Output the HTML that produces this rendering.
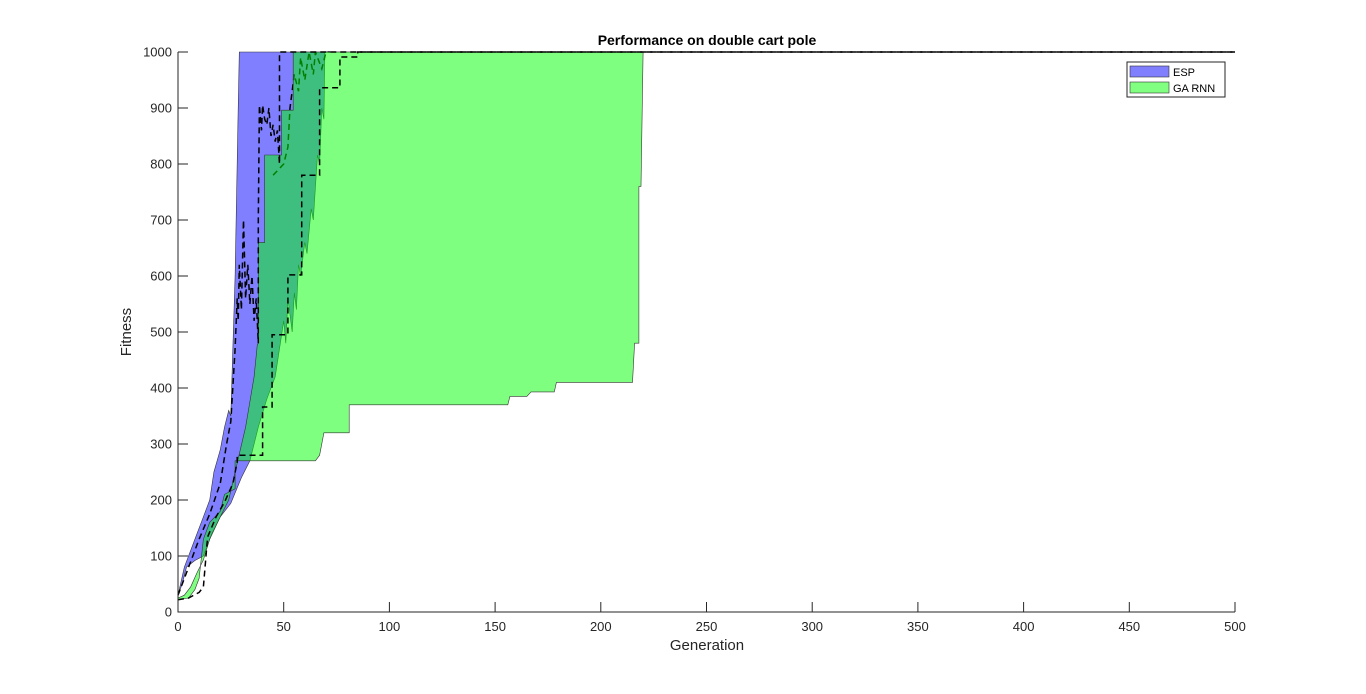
<!DOCTYPE html>
<html><head><meta charset="utf-8"><style>
html,body{margin:0;padding:0;background:#fff;}
svg text{font-family:"Liberation Sans",sans-serif;}
</style></head><body>
<svg id="chart" width="1366" height="689" xmlns="http://www.w3.org/2000/svg">
<rect x="0" y="0" width="1366" height="689" fill="#fff"/>
<g id="plot"></g>
</svg>
<script>
const xTicks=[0,50,100,150,200,250,300,350,400,450,500];
const yTicks=[0,100,200,300,400,500,600,700,800,900,1000];
const espUpperGen=[0,3,6,9,12,15,17,20,22,24,25,26,27,28.5,29,500];
const espUpperFit=[30,80,110,140,170,200,250,290,330,360,350,480,600,900,1000,1000];
const espLowerGen=[0,2,4,8,12,16,20,25,30,34,38,42,46,48,50,51,52,54,55,56,57,58,60,61,63,64,66,67,68,69,69.5,500];
const espLowerFit=[30,50,80,92,100,140,170,194,240,270,330,380,420,470,520,480,560,500,570,540,620,600,660,640,720,700,816,800,900,880,1000,1000];
const gaUpperGen=[0,3,6,9,12,15,20,24,27,32,36,37.5,38,38,41,41,49,49,54.5,54.5,500];
const gaUpperFit=[25,30,45,70,93,130,170,200,250,330,420,477,480,660,660,816,816,896,896,1000,1000];
const gaLowerGen=[0,5,8,10,12,15,20,22,27,27,65,67,69,81,81,156,157,165,167,178,179,215,216,218,218,219,220,500];
const gaLowerFit=[22,25,40,60,130,160,180,210,220,270,270,280,320,320,370,370,385,385,393,393,410,410,480,480,760,760,1000,1000];
const espMedGen=[0,5,10,15,20,23,25,27,28,28.5,29,30,31,32,33,34,35,36,37,38,38,38.5,39.5,40,41,42,43,44,45,46,47,48,48,500];
const espMedFit=[30,80,130,175,230,300,340,470,560,520,620,540,700,560,620,550,600,520,560,480,700,905,860,905,880,870,900,850,870,840,860,800,1000,1000];
const gaMedGen=[0,5,10,12,14,18,22,26,28,28,40,40,44.5,44.5,52,52,58.5,58.5,67,67,76.6,76.6,85,85,500];
const gaMedFit=[22,25,35,45,134,170,196,230,268,280,280,366,366,495,495,602,602,780,780,936,936,991,991,1000,1000];
const hidGen=[45,50,52,53,55,57,58,60,62,64,65,68,70,72];
const hidFit=[780,800,830,900,960,930,990,950,1000,960,1000,970,1000,1000];

const X0=178,X1=1235,Y0=612,Y1=52;
const sx=g=>X0+(g-0)/(500-0)*(X1-X0);
const sy=f=>Y0-(f-0)/(1000-0)*(Y0-Y1);
const NS='http://www.w3.org/2000/svg';
const plot=document.getElementById('plot');
function mk(tag,attrs){const e=document.createElementNS(NS,tag);for(const k in attrs)e.setAttribute(k,attrs[k]);plot.appendChild(e);return e;}
function pts(G,F){return G.map((g,i)=>sx(g).toFixed(1)+','+sy(F[i]).toFixed(1));}
function band(uG,uF,lG,lF){return pts(uG,uF).concat(pts(lG,lF).reverse()).join(' ');}

const espBand=mk('polygon',{points:band(espUpperGen,espUpperFit,espLowerGen,espLowerFit),fill:'rgb(0,0,255)','fill-opacity':0.5,stroke:'#333','stroke-width':0.6});


const hid=mk('polyline',{points:pts(hidGen,hidFit).join(' '),fill:'none',stroke:'#000','stroke-width':1.5,'stroke-dasharray':'6,4'});


const gaBand=mk('polygon',{points:band(gaUpperGen,gaUpperFit,gaLowerGen,gaLowerFit),fill:'rgb(0,255,0)','fill-opacity':0.5,stroke:'#333','stroke-width':0.6});


const l1=mk('polyline',{points:pts(espMedGen,espMedFit).join(' '),fill:'none',stroke:'#000','stroke-width':1.5,'stroke-dasharray':'6,4'});


const l2=mk('polyline',{points:pts(gaMedGen,gaMedFit).join(' '),fill:'none',stroke:'#000','stroke-width':1.5,'stroke-dasharray':'6,4'});



// axes
const ax=mk('path',{d:`M${X0},${Y1} V${Y0} H${X1}`,fill:'none',stroke:'#262626','stroke-width':1});


xTicks.forEach(t=>{
  const l=mk('line',{x1:sx(t),x2:sx(t),y1:Y0,y2:Y0-10,stroke:'#262626'});
  
  
  const tx=mk('text',{x:sx(t),y:Y0+19,'text-anchor':'middle','font-size':13,fill:'#262626'});
  tx.textContent=t;
  
  
});
yTicks.forEach(t=>{
  const l=mk('line',{x1:X0,x2:X0+10,y1:sy(t),y2:sy(t),stroke:'#262626'});
  
  
  const tx=mk('text',{x:X0-6,y:sy(t)+4.5,'text-anchor':'end','font-size':13,fill:'#262626'});
  tx.textContent=t;
  
  
});
const xt=mk('text',{x:707,y:650,'text-anchor':'middle','font-size':15,fill:'#262626'});
xt.textContent='Generation';


const yt=mk('text',{x:131,y:332,'text-anchor':'middle','font-size':15,fill:'#262626',transform:'rotate(-90 131 332)'});
yt.textContent='Fitness';


const tt=mk('text',{x:707,y:45,'text-anchor':'middle','font-size':14,'font-weight':'bold',fill:'#000'});
tt.textContent='Performance on double cart pole';


// legend
const lg=mk('rect',{x:1127,y:62,width:98,height:35,fill:'#fff',stroke:'#262626','stroke-width':1});


const lgs=[['ESP','rgb(128,128,255)',72],['GA RNN','rgb(128,255,128)',88]];
lgs.forEach(([n,c,y])=>{
  const r=mk('rect',{x:1130,y:y-6,width:39,height:11,fill:c,stroke:'#333','stroke-width':0.6});
  
  
  const t=mk('text',{x:1173,y:y+4,'font-size':11,fill:'#000'});
  t.textContent=n;
  
  
});
</script>
</body></html>
